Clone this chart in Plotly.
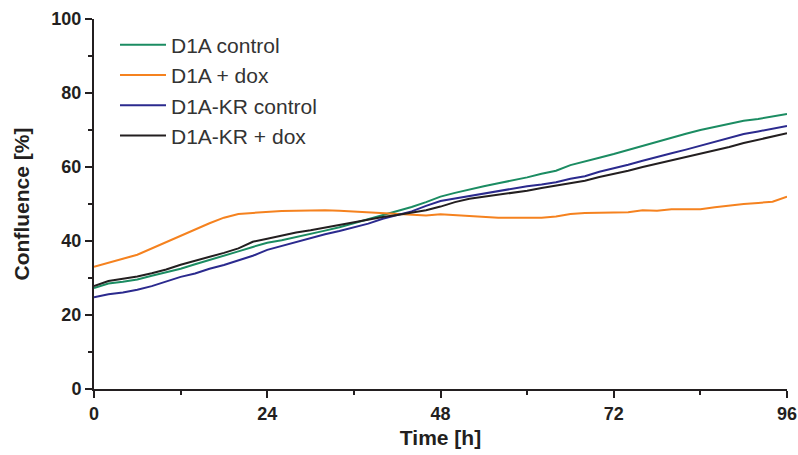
import plotly.graph_objects as go

time_h = list(range(0, 97, 2))

d1a_control = [27.3, 28.5, 29.0, 29.6, 30.6, 31.5, 32.5, 33.7, 34.8, 36.0, 37.2, 38.4, 39.5,
               40.2, 41.0, 41.8, 42.8, 43.7, 44.8, 45.8, 46.9, 48.0, 49.2, 50.5, 52.0,
               53.0, 54.0, 54.8, 55.6, 56.3, 57.2, 58.2, 59.0, 60.5, 61.4, 62.5, 63.5,
               64.6, 65.9, 66.9, 68.0, 69.0, 70.0, 70.9, 71.7, 72.5, 73.0, 73.6, 74.3]

d1a_dox = [33.0, 34.0, 35.2, 36.3, 38.0, 39.8, 41.5, 43.3, 44.8, 46.3, 47.3, 47.6, 47.9,
           48.1, 48.2, 48.3, 48.3, 48.2, 48.0, 47.8, 47.7, 47.5, 47.3, 46.9, 47.2,
           47.0, 46.7, 46.4, 46.3, 46.3, 46.3, 46.3, 46.6, 47.3, 47.6, 47.6, 47.6,
           47.8, 48.3, 48.2, 48.6, 48.6, 48.6, 49.1, 49.6, 50.0, 50.3, 50.6, 52.0]

d1akr_control = [24.8, 25.6, 26.1, 26.8, 27.8, 29.0, 30.3, 31.2, 32.5, 33.5, 34.8, 36.0, 37.6,
                 38.7, 39.7, 40.8, 41.8, 42.7, 43.6, 44.7, 46.0, 47.0, 48.0, 49.5, 50.8,
                 51.5, 52.2, 52.8, 53.5, 54.1, 54.8, 55.3, 55.9, 56.8, 57.5, 58.7, 59.6,
                 60.6, 61.7, 62.8, 63.7, 64.7, 65.8, 66.9, 67.9, 68.9, 69.6, 70.4, 71.1]

d1akr_dox = [27.8, 29.2, 29.8, 30.4, 31.3, 32.3, 33.6, 34.6, 35.8, 36.8, 38.0, 39.8, 40.6,
             41.5, 42.3, 42.9, 43.6, 44.4, 45.2, 45.8, 46.5, 47.0, 47.6, 48.3, 49.3,
             50.5, 51.4, 51.9, 52.4, 53.0, 53.6, 54.3, 55.0, 55.6, 56.3, 57.3, 58.1,
             59.0, 60.0, 60.9, 61.8, 62.6, 63.5, 64.5, 65.4, 66.5, 67.4, 68.3, 69.1]

series_names = ["D1A control", "D1A + dox", "D1A-KR control", "D1A-KR + dox"]
series_values = [d1a_control, d1a_dox, d1akr_control, d1akr_dox]
series_colors = ["#1b8c62", "#f5821f", "#2b2a8e", "#231f20"]

x_ticks = [0, 24, 48, 72, 96]
y_ticks = [0, 20, 40, 60, 80, 100]

fig = go.Figure()
for name, vals, col in zip(series_names, series_values, series_colors):
    fig.add_trace(go.Scatter(x=time_h, y=vals, mode="lines", name=name,
                             line=dict(color=col, width=2)))

FONT = "Liberation Sans, Arial, sans-serif"
axis_font = dict(family=FONT, size=18, color="#231f20", weight="bold")
title_font = dict(family=FONT, size=21, color="#231f20", weight="bold")

fig.update_layout(
    width=798, height=455,
    margin=dict(l=94, r=11, t=19, b=66),
    plot_bgcolor="white", paper_bgcolor="white",
    showlegend=True,
    legend=dict(x=0.0303, y=0.985, xanchor="left", yanchor="top",
                bgcolor="rgba(0,0,0,0)", itemwidth=46,
                font=dict(family=FONT, size=21, color="#333333")),
)
fig.update_xaxes(
    range=[0, 96], tickvals=x_ticks, automargin=False,
    showgrid=False, zeroline=False, showline=True, linecolor="#231f20", linewidth=2,
    ticks="outside", ticklen=7, tickwidth=2, tickcolor="#231f20",
    minor=dict(ticks="outside", dtick=12, tick0=0, ticklen=4, tickwidth=2, tickcolor="#231f20", showgrid=False),
    tickfont=axis_font,
    title=dict(text="Time [h]", font=title_font, standoff=8),
)
fig.update_yaxes(
    range=[0, 100], tickvals=y_ticks, automargin=False,
    showgrid=False, zeroline=False, showline=True, linecolor="#231f20", linewidth=2,
    ticks="outside", ticklen=7, tickwidth=2, tickcolor="#231f20",
    minor=dict(ticks="outside", dtick=10, tick0=0, ticklen=4, tickwidth=2, tickcolor="#231f20", showgrid=False),
    tickfont=axis_font,
    title=dict(text="Confluence [%]", font=title_font, standoff=16),
)

fig.write_html(
    "out.html",
    config={"displayModeBar": False},
    post_script="document.body.style.margin='0';document.body.style.overflow='hidden';",
)
